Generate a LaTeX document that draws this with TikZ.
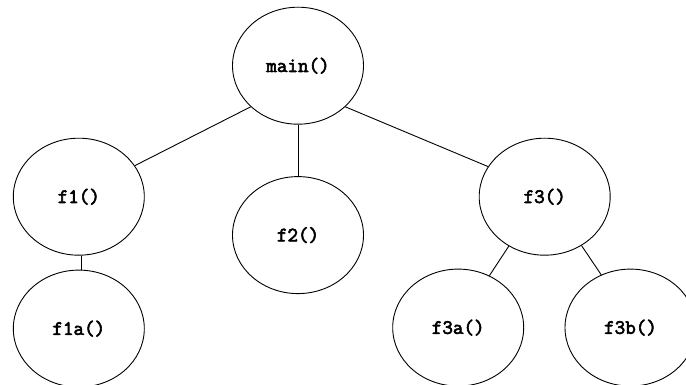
\documentclass[tikz,border=0pt]{standalone}
\usepackage{fontspec}
\newfontfamily\callfont[FakeBold=3]{Latin Modern Mono}
\usepackage{tikz}
\usetikzlibrary{shapes.geometric, positioning}
\tikzstyle{func} = [ellipse, draw=black, line width=0.9pt, minimum width=131pt, minimum height=117pt, inner sep=0pt, font=\callfont\fontsize{20.5}{24}\selectfont]
\tikzstyle{link} = [line width=0.9pt]

\begin{document}
\begin{tikzpicture}[x=1pt, y=-1pt]
    \useasboundingbox (0,0) rectangle (686,385);
    \node (main) [func] at (298,65.7) {main()};
    \node (f1) [func] at (78.8,196.7) {f1()};
    \node (f2) [func, below=51.5pt of main] {f2()};
    \node (f3) [func] at (544.7,196.7) {f3()};
    \node (f1a) [func, below=14pt of f1] {f1a()};
    \node (f3a) [func] at (458.2,327.6) {f3a()};
    \node (f3b) [func] at (630.5,327.6) {f3b()};

    \draw [link] (main.221.8) -- (f1.29.4);
    \draw [link] (main.south) -- (f2.north);
    \draw [link] (main.319.9) -- (f3.152.9);
    \draw [link] (f1.273) -- (f1a.87);
    \draw [link] (f3.234.3) -- (f3a.59.3);
    \draw [link] (f3.307.5) -- (f3b.119.6);
\end{tikzpicture}
\end{document}
